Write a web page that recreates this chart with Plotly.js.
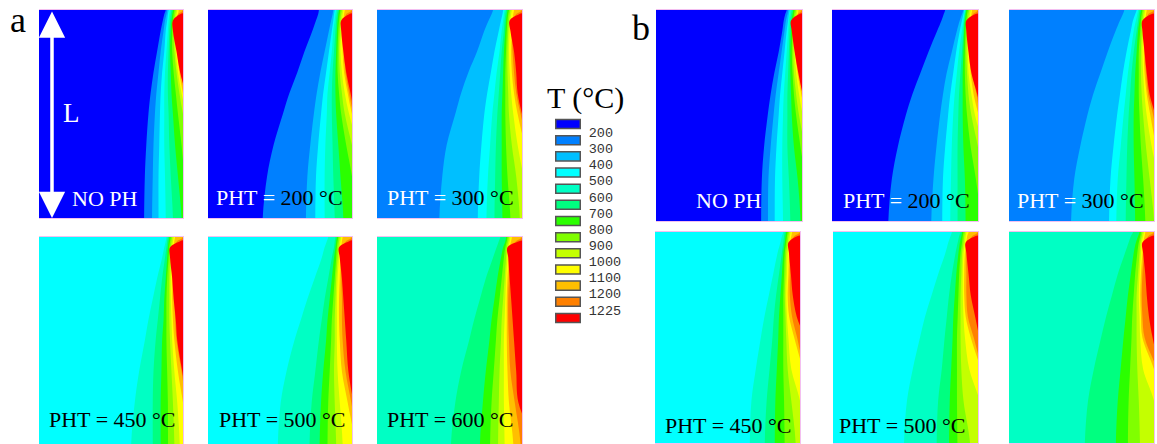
<!DOCTYPE html>
<html><head><meta charset="utf-8">
<script src="https://cdn.plot.ly/plotly-3.0.1.min.js"></script>
<style>html,body{margin:0;padding:0;background:#fff}#g{width:1157px;height:444px}</style>
</head><body><div id="g"></div>
<script>
const W = 1157, H = 444;
const tempLabels = ['200','300','400','500','600','700','800','900','1000','1100','1200','1225'];
const bandColors = ['#0000ff','#0080ff','#00bfff','#00ffff','#00ffc4','#00ff80','#2bff00','#80ff00','#c4ff00','#ffff00','#ffbf00','#ff8000','#ff0000'];
// depth along the panel (% of height) at which each isotherm position is read
const depths = [0,2,5,10,20,30,40,50,65,80,100];

// isotherm positions (% of panel width); each row starts the next colour band
const a1 = [
[88,87,86,84.5,82,79.5,77.5,76,74.5,73.5,73],
[89,88.5,87.5,86.5,84.5,83,81.5,80.5,79.5,79,78.5],
[90,89.5,89,88,87,85.5,84.5,84,83.5,83,83],
[91,90.5,90,89.5,88.5,87.5,87,87,87,87.5,88],
[92,91.5,91,90.5,90,89.5,89.5,90,90.5,91.5,93],
[93,92.5,92,91.5,91,91.5,92,93,94.5,96.5,99],
[94,93.5,93,92.5,92.5,93.5,95,96.5,99,101,104],
[95,94.5,94,93.5,94,95.5,97.5,100,104,108,110],
[96,95.5,95,94.5,95,96.5,99,102,106,110,110],
[97,96.5,95.5,95,96,97.5,100,103,108,110,110],
[100,96.5,95,94.5,96,98.5,101,105,110,110,110],
[108,98,93,93,95.5,98,102,106,110,110,110]];
const a2 = [
[77,76.5,75,72.5,67,62,56.5,52,45.5,41,38],
[87,86.5,85.5,84,81,78,75.5,73.5,71,69,68],
[88,87.5,87,86,84,82,80,78.5,76.5,75,74.5],
[89,88.5,88,87,86,84.5,83,82.5,81.5,81,81],
[90,89.5,89,88.5,87.5,86.5,86,86,86.5,87,88],
[91,90.5,90,89.5,89,88.5,88.5,89,90.5,92,94],
[92,91.5,91,90.5,90,90,91,92.5,96,100,104],
[93,92.5,92,91.5,91,91.5,93,95,100,105,110],
[94,93.5,93,92.5,92,93,95,98,104,110,110],
[95,94.5,94,93.5,93.5,94.5,97,100,106,110,110],
[100,96,94.5,94,94.5,95.5,98,101,108,110,110],
[108,98,92.5,92.5,94,96,99,102,110,110,110]];
const a3 = [
[80,79,77,74,69,63,58,54,48,45,43],
[87,86.5,85.5,84,81,78.5,76,74,72,70.5,69.5],
[88,87.5,87,86,84.5,82.5,81,79.5,78,76.5,75.5],
[89,88.5,88,87.5,86,85,84,83,82,81.5,81],
[90,89.5,89,88.5,87.5,87,86.5,86,86,86,86.5],
[91,90.5,90,89.5,89,88.5,88.5,88.5,89,90,92],
[92,91.5,91,90.5,90,90,90.5,91,93,96,98.5],
[93,92.5,92,91.5,91,91.5,92.5,94,97,101,106],
[94.5,94,93.5,93,92.5,93,94.5,97,102,108,110],
[100,96,93.5,93,93.5,94.5,96,99,104,110,110],
[108,98,91.5,92,94.5,96,97,100,106,110,110]];
const a4 = [
[88.5,88,87,85.5,82,79,76,73.5,69.5,66.5,64],
[89.5,89,88.5,87.5,85.5,84,82.5,81,79.5,79,79],
[90.5,90,89.5,89,88,87,86.5,85.5,85,84.5,84.5],
[91.5,91,90.5,90,89,88.5,88.5,88.5,89,89.5,89.6],
[92.5,92,91.5,91,90.5,90.5,90.5,91,92,93,94],
[93.5,93,92.5,92,91.5,91.5,92,92.5,94,96,97.7],
[94.5,94,93.5,93,92.5,92.5,93,94,96.5,100,104],
[100,96,93.5,93,93,94,94.5,95.5,99,102,106],
[108,98,91,91,92.5,93.5,95,96,99.5,103,108]];
const a5 = [
[83.5,82.5,81,79,74,69,64.5,60,54.5,50.5,48.5],
[88.5,88,87.5,86,83.5,81,79,77,74.5,72,70.5],
[89.5,89,88.5,87.5,86,84.5,83,82,80,78.5,77.5],
[90.5,90,89.5,89,88,87,86,85.5,84.5,83.5,83],
[91.5,91,90.5,90,89,88.5,88,88,87.5,88,89],
[92.5,92,91.5,91,90,89.5,89.5,89.5,90,91.5,93.5],
[93.5,93,92.5,92,91.5,91,91,91.5,93,97,102],
[100,96,93,92.5,92.5,93,93,93.5,95.5,99.5,104],
[108,98,91,91.5,93,94,95,96,97.5,101,106]];
const a6 = [
[85,84,82.5,80,75,71,67,63.5,58,54,51],
[89,88.5,87,85.5,83,81,79,77.5,75,73,71],
[90,89.5,88.5,87.5,86,84.5,83,82,80.5,79,78],
[91,90.5,89.5,89,88,87,86,85.5,84.5,84,83.5],
[92,91.5,90.5,90,89,88.5,88,87.5,87.5,87.5,88],
[93,92.5,91.5,91,90,89.5,89.5,89.5,90,91,94],
[100,96,92.5,92,91,90.5,90.5,91,92,95,99],
[108,98,90,90.5,91.5,92.5,93.5,94.5,96,97.5,108]];
const b1 = [
[89.5,88.5,87.5,86.5,84,81,78.5,76.5,74,72.5,72],
[90.5,90,89,88,86,84,82,80.5,78.5,77,76.7],
[91.5,91,90.5,89.5,88,86.5,85,84,82.5,81.5,81.3],
[92,91.5,91,90.5,89.5,88.5,87.5,87,86.5,86.5,87],
[93,92.5,92,91.5,91,90.5,90,90,90,91,92],
[94,93.5,93,92.5,92,92,92.5,93,94.5,97,99],
[95,94.5,94,93.5,93,93.5,94.5,96,99,102,104],
[96,95.5,95,94.5,94,94.5,96,98,102,106,110],
[97,96.5,96,95.5,95,96,98,100.5,105,110,110],
[97.5,97,96.5,96,95.5,97,99.5,103,108,110,110],
[100,97,96,95.5,96,98,100.5,105,110,110,110],
[108,98,92.5,93,95,97.5,100.5,104,110,110,110]];
const b2 = [
[77.5,76.5,75,72,66,60.5,55,50.5,45,41,38.6],
[90,89,87.5,85.5,82,78.5,76,74,71.5,69.5,68],
[90.5,90,89,87.5,85,83,81,79.5,77.5,76,75.5],
[91,90.5,90,89,87,85.5,84,83,82,81.5,81],
[91.5,91,90.5,90,89,88,87,86.5,86,86,86],
[92,91.5,91,90.5,90,89.5,89.5,89.5,90,91,91.5],
[93,92.5,92,91.5,91,91,91.5,92.5,95,98.5,102],
[94,93.5,93,92.5,92,92.5,93.5,95.5,100,104,110],
[95,94.5,94,93.5,93,93.5,95.5,98,104,110,110],
[96,95.5,95,94.5,94,95,97,100.5,106,110,110],
[100,96.5,95,94.5,94.5,96,99,101.5,108,110,110],
[108,98,92,92,93.5,95.5,99.5,103,110,110,110]];
const b3 = [
[79.5,78.5,76.5,73.5,68,63,58,54,49,45,42.8],
[88,87,85.5,84,81,78.5,76.5,74.5,72,70,69],
[89,88.5,87.5,86,84,82,80.5,79,77,75,74],
[90,89.5,89,88,86,84.5,83.5,82.5,81.5,81,80.5],
[91,90.5,90,89,88,87,86.5,86,86,86.5,87],
[92,91.5,91,90.5,89.5,89.5,89.5,90,91,92.5,94],
[93,92.5,92,91.5,91,91,91.5,92.5,94.5,97,100],
[94,93.5,93,92.5,92,92.5,93.5,95,98.5,103,108],
[95,94.5,94,93.5,93,93.5,95,97.5,101.5,106,110],
[100,96,94.5,94,93.5,94.5,96,99.5,103,108,110],
[108,98,92,92,93.5,95,97,101,106,110,110]];
const b4 = [
[88.5,87.5,86.5,84.5,81.5,78.5,75.5,73,69.5,66.5,65.4],
[89.5,89,88.5,87.5,85.5,83.5,82,81,79,77,75.7],
[90.5,90,89.5,88.5,87.5,86.5,85.5,85,84,83,82.6],
[91.5,91,90.5,89.5,89,88.5,88.5,88.5,88.5,89,89.4],
[92.5,92,91.5,90.5,90,89.5,90,90.5,91.5,94,97],
[93.5,93,92.5,91.5,91,90.5,91,92,94,100,104],
[94.5,94,93,92.5,92,91.5,92.5,96,102,108,110],
[100,96,93.5,93,93,93,94.5,98,103,110,110],
[108,98,92,92.4,93.7,95,97.7,103,108,110,110]];
const b5 = [
[82,81,79.5,77.5,72.5,68,63.5,60,55,51,49],
[88,87,86,84.5,82,80,78.5,77,75,72.5,71.5],
[89,88.5,87.5,86.5,85,84,83,82.5,81.5,80.5,80],
[90,89.5,89,88,87,86.5,86,85.5,85.5,85.5,85.8],
[91,90.5,90,89,88.5,88,88,88,88.5,90,94.5],
[92,91.5,91,90,89.5,89.5,90,91,94,101,105],
[93.5,92.5,92,91,90.5,90.5,91.5,95,102,108,110],
[100,96,93,92,92,92,93,97,103,110,110],
[108,98,91.5,92,93.5,95,98,101,106,110,110]];
const b6 = [
[85.5,84,82.5,80,75,71,67,63.5,58.5,54.5,52.3],
[90,89,87.5,86,84,82,80.5,79,77,75,73.7],
[91,90.5,89.5,88.5,87,86,85,84.5,83.5,82.5,82],
[92,91.5,90.5,90,89,88,88,88,88.5,89.5,90.3],
[93,92.5,91.5,91,90,89.5,90,90.5,92.5,100,104],
[94,93.5,92.5,92,91,90.5,91,92,100,106,110],
[100,96,93.5,93,92,91.5,92,93.5,102,108,110],
[108,98,92,92.5,94,95,96.5,99,104,110,110]];

const panelCurves = [a1,a2,a3,a4,a5,a6,b1,b2,b3,b4,b5,b6];
// index of the colder band filling each panel behind its isotherms
const panelBase = [0,0,1,3,3,4,0,0,1,3,3,4];
const panelNames = ['a NO PH','a 200','a 300','a 450','a 500','a 600','b NO PH','b 200','b 300','b 450','b 500','b 600'];
// panel boxes in page pixels: left,right,top,bottom
const panelLeft  = [39,208,377,39,208,377,656,832,1009,655,833,1009];
const panelRight = [183,352,522,183,352,522,802,978,1154,800,978,1154];
const panelTop   = [10,10,10,237,237,237,10,10,10,232,232,232];
const panelBot   = [218,218,218,445,445,445,221,221,221,443,443,443];

const px = v => v/W, py = v => 1 - v/H;
const traces = [];
const layout = {width:W,height:H,autosize:false,margin:{l:0,r:0,t:0,b:0},paper_bgcolor:'#fff',plot_bgcolor:'#fff',showlegend:false,annotations:[]};

panelCurves.forEach((curves,p)=>{
  const n = p+1, xa = n===1?'x':'x'+n, ya = n===1?'y':'y'+n;
  const axisBase = {showgrid:false,zeroline:false,showticklabels:false,ticks:'',fixedrange:true,showline:true,linecolor:'#f3bff0',linewidth:1};
  layout['xaxis'+(n===1?'':n)] = Object.assign({},axisBase,{domain:[px(panelLeft[p]),px(panelRight[p])],range:[0,100],anchor:ya,mirror:true});
  layout['yaxis'+(n===1?'':n)] = Object.assign({},axisBase,{domain:[Math.max(0,py(panelBot[p])),py(panelTop[p])],range:[100,0],anchor:xa,side:'right',mirror:false});
  traces.push({type:'scatter',mode:'lines',xaxis:xa,yaxis:ya,name:panelNames[p],hoverinfo:'skip',
    x:[0,100,100,0],y:[0,0,100,100],fill:'toself',fillcolor:bandColors[panelBase[p]],line:{width:0}});
  curves.forEach((c,k)=>{
    const col = bandColors[panelBase[p]+k+1];
    traces.push({type:'scatter',mode:'lines',xaxis:xa,yaxis:ya,name:panelNames[p],hoverinfo:'skip',
      x:[c[0],...c,c[c.length-1],130,130],
      y:[-20,...depths,120,120,-20],
      fill:'toself',fillcolor:col,line:{width:0,shape:'spline',smoothing:1}});
  });
});

// colour key
traces.push({type:'bar',orientation:'h',xaxis:'x13',yaxis:'y13',hoverinfo:'skip',
  y:bandColors.map((c,i)=>i),x:bandColors.map(()=>1),width:0.56,
  marker:{color:bandColors,line:{color:'#555',width:1.5}}});
layout.xaxis13 = {domain:[px(555),px(581)],range:[-0.03,1.03],showgrid:false,zeroline:false,showticklabels:false,ticks:'',anchor:'y13',fixedrange:true};
layout.yaxis13 = {domain:[py(326),py(116)],range:[12.5,-0.5],anchor:'x13',side:'right',showgrid:false,zeroline:false,showline:false,fixedrange:true,
  tickmode:'array',tickvals:tempLabels.map((t,i)=>i+0.5),ticktext:tempLabels,ticks:'outside',ticklen:4,tickcolor:'rgba(0,0,0,0)',
  tickfont:{family:'"Liberation Mono",monospace',size:13.5,color:'#333'}};

const serif = '"Liberation Serif",serif';
function note(text,x,y,size,color){
  layout.annotations.push({text,x:px(x),y:py(y),xref:'paper',yref:'paper',xanchor:'left',yanchor:'middle',showarrow:false,
    font:{family:serif,size,color:color||'#000'},align:'left',borderpad:0});
}
const w = s => '<span style="color:#fff">'+s+'</span>';
note('a',9,20,36);
note('b',631,28,36);
note('T (°C)',546,98,30);
note('L',62,113,27,'#fff');
note('NO PH',71,198,22,'#fff');
note(w('PHT =')+' 200 °C',215,197,22);
note(w('PHT =')+' 300 °C',386,197,22);
note('PHT = 450 °C',48,419,22);
note('PHT = 500 °C',218,419,22);
note('PHT = 600 °C',386,419,22);
note('NO PH',695,200,22,'#fff');
note(w('PHT =')+' 200 °C',842,200,22);
note(w('PHT =')+' 300 °C',1016,200,22);
note('PHT = 450 °C',664,425,22);
note('PHT = 500 °C',838,425,22);
layout.annotations.push({text:'',xref:'paper',yref:'paper',x:px(52),y:py(218),axref:'pixel',ayref:'pixel',ax:0,ay:-208,
  showarrow:true,arrowhead:2,arrowside:'end+start',arrowwidth:3.5,arrowsize:1.5,arrowcolor:'#fff',standoff:0,startstandoff:0,startarrowhead:2,startarrowsize:1.5});

Plotly.newPlot('g',traces,layout,{staticPlot:true,displayModeBar:false});
</script></body></html>
